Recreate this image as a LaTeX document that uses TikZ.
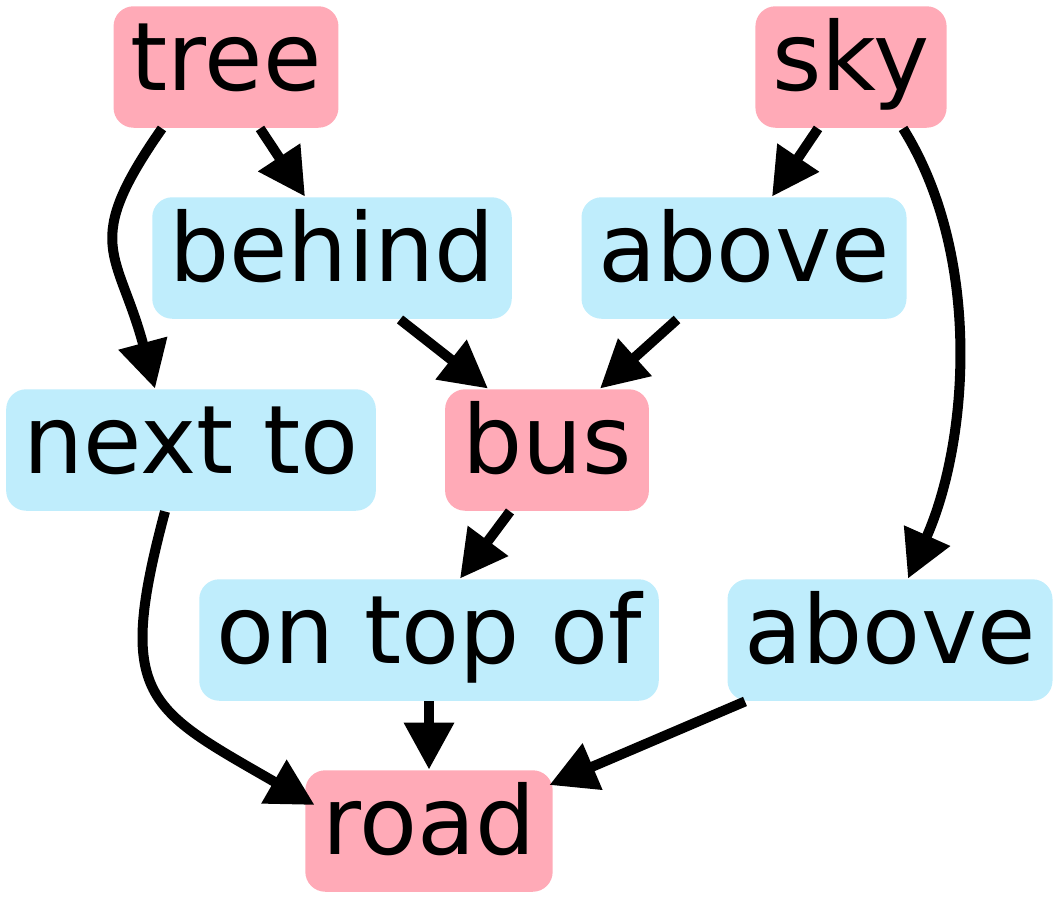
\documentclass[tikz,border=0pt]{standalone}
\usepackage{fontspec}
\setmainfont{DejaVu Sans}
\usepackage{xcolor}
\usetikzlibrary{arrows.meta,positioning,calc}
\definecolor{objpink}{RGB}{255,170,183}
\definecolor{relblue}{RGB}{191,237,252}
\tikzstyle{obj}  =[rectangle, fill=objpink, rounded corners=0.2cm,
                   minimum height=1.19cm, inner xsep=0.17cm,
                   text height=20.5pt, text depth=7.4pt]
\tikzstyle{rel}  =[rectangle, fill=relblue, rounded corners=0.2cm,
                   minimum height=1.19cm, inner xsep=0.17cm,
                   text height=20.5pt, text depth=7.4pt]
\tikzstyle{edge} =[line width=0.1cm, -{Triangle[length=0.47cm,width=0.48cm]}]

\begin{document}
\begin{tikzpicture}[every node/.style={font=\fontsize{27}{31}\selectfont}]

  \useasboundingbox (0,0) rectangle (10.6,-9.0);

  % ── nodes at explicit coordinates ──────────────────────────────────────────
  \node[obj] (tree)   at (2.26, -0.67) {tree};
  \node[obj] (sky)    at (8.51, -0.67) {sky};
  \node[rel] (behind) at (3.32, -2.58) {behind};
  \node[rel] (aboveA) at (7.44, -2.58) {above};
  \node[rel] (nextto) at (1.91, -4.50) {next to};
  \node[obj] (bus)    at (5.47, -4.50) {bus};
  \node[rel] (ontop)  at (4.29, -6.40) {on top of};
  \node[rel] (aboveB) at (8.90, -6.40) {above};
  \node[obj] (road)   at (4.29, -8.31) {road};

  % ── straight edges ─────────────────────────────────────────────────────────
  \draw[edge] ([xshift=0.34cm]tree.south)    -- ([xshift=-0.27cm]behind.north);
  \draw[edge] ([xshift=-0.33cm]sky.south)    -- ([xshift=0.28cm]aboveA.north);
  \draw[edge] ([xshift=0.68cm]behind.south)  -- ([xshift=-0.59cm]bus.north);
  \draw[edge] ([xshift=-0.67cm]aboveA.south) -- ([xshift=0.53cm]bus.north);
  \draw[edge] ([xshift=-0.37cm]bus.south)    -- ([xshift=0.31cm]ontop.north);
  \draw[edge] (ontop.south) -- (road.north);
  \draw[edge] ([xshift=-1.45cm]aboveB.south) -- ([xshift=-0.04cm,yshift=0.46cm]road.east);

  % ── curved edges ───────────────────────────────────────────────────────────
  \draw[edge] ([xshift=-0.64cm]tree.south)
    to[out=-125, in=105, looseness=1.4] ([xshift=-0.36cm]nextto.north);
  \draw[edge] ([xshift=0.52cm]sky.south)
    to[out=-58, in=66, looseness=0.85] ([xshift=0.18cm]aboveB.north);
  \draw[edge] ([xshift=-0.26cm]nextto.south)
    to[out=-105, in=150, looseness=1.5] ([xshift=0.1cm,yshift=0.26cm]road.west);

\end{tikzpicture}
\end{document}
